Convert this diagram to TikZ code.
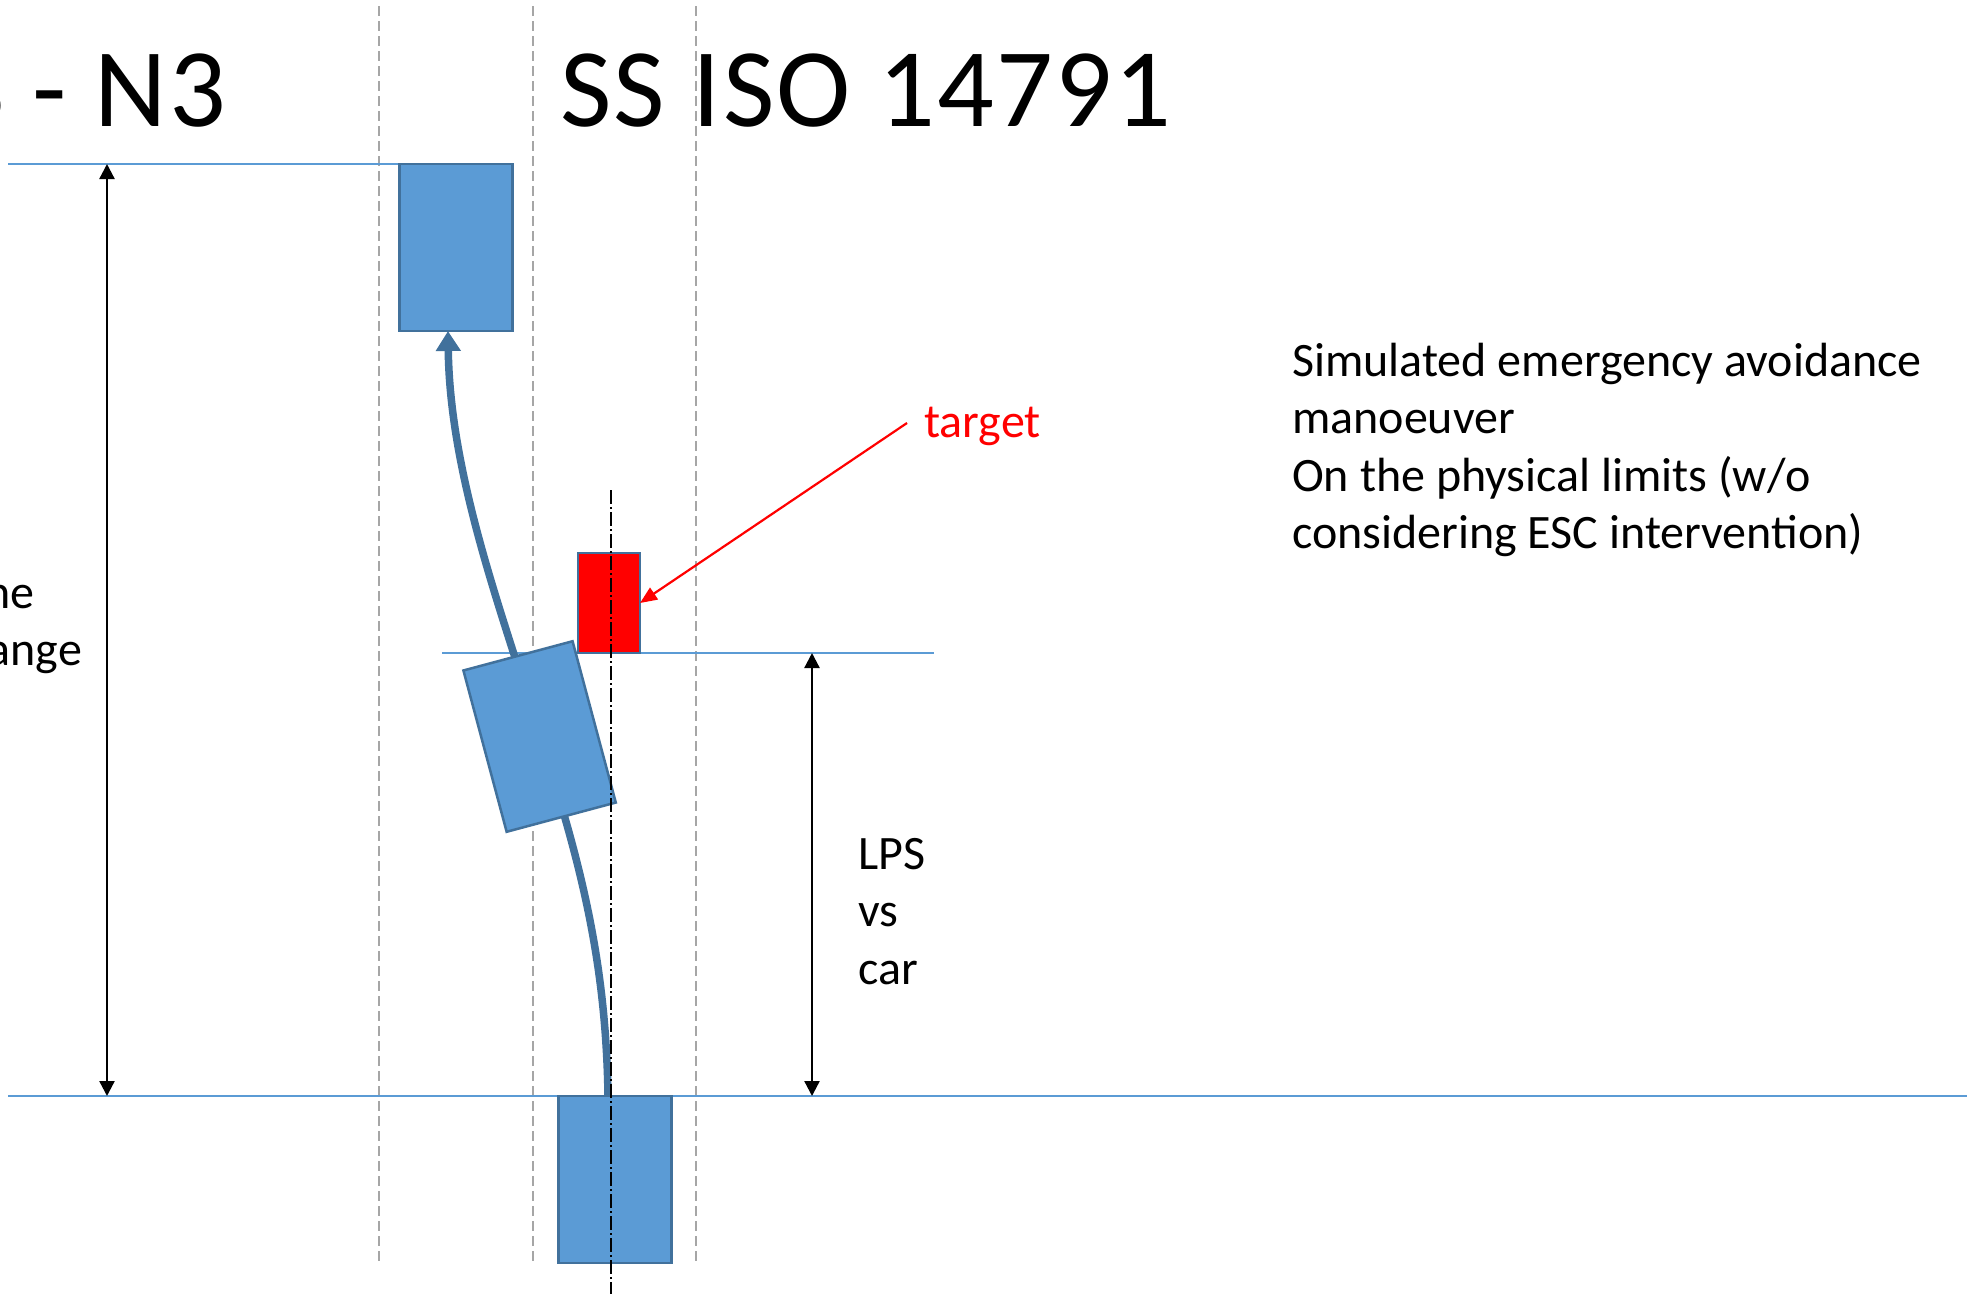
\documentclass[tikz,border=0pt]{standalone}
\usepackage{fontspec}
\setmainfont{Carlito}
\newfontfamily\headfont[LetterSpace=2]{Carlito}
\usetikzlibrary{arrows.meta}
\definecolor{carfill}{HTML}{5B9BD5}
\definecolor{caredge}{HTML}{41719C}
\definecolor{guide}{HTML}{5B9BD5}
\definecolor{lanegray}{HTML}{A6A6A6}
\begin{document}
\begin{tikzpicture}[x=1pt,y=-1pt,
  car/.style={draw=caredge, fill=carfill, line width=2.5pt,
    minimum width=113pt, minimum height=167pt, inner sep=0pt, outer sep=0pt},
  obstacle/.style={draw=caredge, fill=red, line width=2.5pt,
    minimum width=62pt, minimum height=100pt, inner sep=0pt, outer sep=0pt},
  laneline/.style={draw=lanegray, line width=1.6pt, dash pattern=on 10pt off 5pt},
  refline/.style={draw=guide, line width=1.6pt},
  axisline/.style={draw=black, line width=1.3pt, dash pattern=on 14pt off 3pt on 2pt off 3pt},
  dimarrow/.style={draw=black, line width=2.3pt,
    {Triangle[width=15pt,length=15pt]}-{Triangle[width=15pt,length=15pt]}},
  trajectory/.style={draw=caredge, line width=7.5pt,
    -{Triangle[width=24pt,length=20pt]}},
  pointer/.style={draw=red, line width=2.2pt, -{Triangle[width=14pt,length=17pt]}},
  body/.style={font=\fontsize{48}{58}\selectfont, inner sep=0pt, anchor=base west},
  headline/.style={font=\headfont\fontsize{112}{134}\selectfont, inner sep=0pt}
]
\useasboundingbox (0,0) rectangle (1980,1294);
\fill[white] (0,0) rectangle (1980,1294);

% lane boundaries
\coordinate (laneAt) at (379,6);   \coordinate (laneAb) at (379,1263);
\coordinate (laneBt) at (533,6);   \coordinate (laneBb) at (533,1263);
\coordinate (laneCt) at (696,6);   \coordinate (laneCb) at (696,1263);
\draw[laneline] (laneAt) -- (laneAb);
\draw[laneline] (laneBt) -- (laneBb);
\draw[laneline] (laneCt) -- (laneCb);

% reference lines
\coordinate (topL) at (8,164);     \coordinate (topR) at (399,164);
\coordinate (midL) at (442,653);   \coordinate (midR) at (934,653);
\coordinate (botL) at (8,1096);    \coordinate (botR) at (1967,1096);
\draw[refline] (topL) -- (topR);
\draw[refline] (midL) -- (midR);
\draw[refline] (botL) -- (botR);

% vehicles and target
\node[car] (carEnd) at (456,247.5) {};
\node[car] (carStart) at (615,1179.5) {};
\node[obstacle] (target) at (609,603) {};

% driven path
\coordinate (pathStart) at (608,1096);
\coordinate (pathMid) at (540,737);
\coordinate (pathEnd) at (448,331);
\draw[trajectory] (pathStart) .. controls (606,960) and (580,860) .. (pathMid)
  .. controls (505,620) and (450,480) .. (pathEnd);

\node[car, rotate=15] (carTurn) at (539.6,736.5) {};

% centre axis of the target lane
\coordinate (axisTop) at (611,490);
\coordinate (axisBot) at (611,1294);
\draw[axisline] (axisTop) -- (axisBot);

% distance arrows
\coordinate (dimAt) at (107,164);  \coordinate (dimAb) at (107,1096);
\coordinate (dimBt) at (812,653);  \coordinate (dimBb) at (812,1096);
\draw[dimarrow] (dimAt) -- (dimAb);
\draw[dimarrow] (dimBt) -- (dimBb);

% labels
\node[headline, anchor=base east] (titleLeft) at (226,126) {3 - N3};
\node[headline, anchor=base west] (titleRight) at (560,126) {SS ISO 14791};
\node[body] (laneChange) at (-58,608) {\vtop{\baselineskip=57.5pt\hbox{Lane}\hbox{change}}};
\node[body] (lpsLabel) at (858,869) {\vtop{\baselineskip=57.5pt\hbox{LPS}\hbox{vs}\hbox{car}}};
\node[body, text=red] (targetLabel) at (924,437) {target};
\node[body] (note) at (1292,376) {\vtop{\baselineskip=57.5pt
  \hbox{Simulated emergency avoidance}\hbox{manoeuver}
  \hbox{On the physical limits (w/o}\hbox{considering ESC intervention)}}};

\coordinate (pointerTail) at (907,423);
\draw[pointer] (pointerTail) -- (target.east);
\end{tikzpicture}
\end{document}
